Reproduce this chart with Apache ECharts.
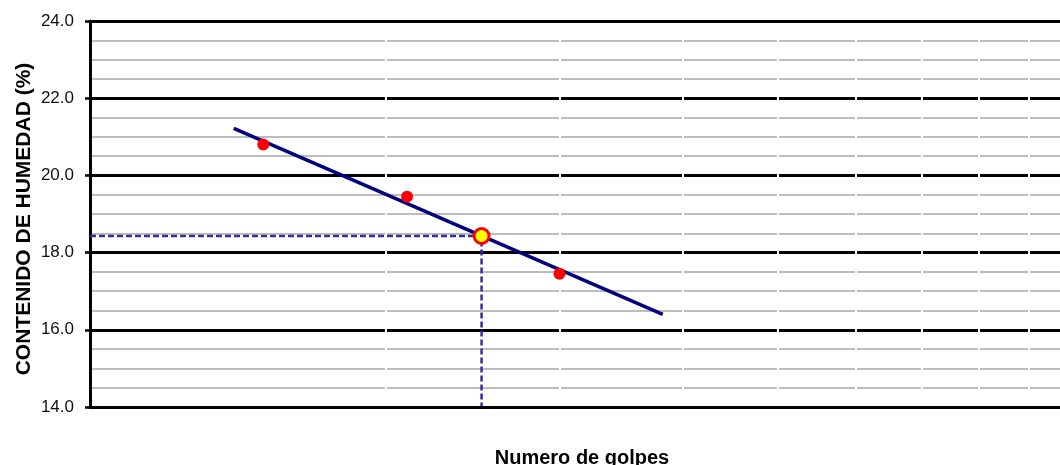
<!DOCTYPE html>
<html>
<head>
<meta charset="utf-8">
<script src="https://cdn.jsdelivr.net/npm/echarts@6/dist/echarts.min.js"></script>
<style>html,body{margin:0;padding:0;background:#fff}#c{width:1060px;height:465px}</style>
</head>
<body>
<div id="c"></div>
<script>
// Data
const blows = [15, 21, 30];
const moisture = [20.8, 19.45, 17.45];
const trendBlows = [14, 38.2];
const trendMoisture = [21.22, 16.4];
const llBlows = 25;
const llMoisture = 18.43;
const xGridValues = [20, 30, 40, 50, 60, 70, 80, 90];
const yTicks = [14, 16, 18, 20, 22, 24];

const chart = echarts.init(document.getElementById('c'));
const font = "'Liberation Sans', Arial, sans-serif";
chart.setOption({
  animation: false,
  grid: { left: 90, width: 984, top: 21, height: 386, containLabel: false, outerBoundsMode: 'none' },
  xAxis: [{
    type: 'log', logBase: 10, min: 10, max: 100, z: 5,
    name: 'Numero de golpes', nameLocation: 'middle', nameGap: 41,
    nameTextStyle: { fontFamily: font, fontWeight: 'bold', fontSize: 20, color: '#000' },
    axisLine: { show: true, lineStyle: { color: '#000', width: 3 } },
    axisTick: { show: false }, axisLabel: { show: false }, splitLine: { show: false }
  }, {
    type: 'log', logBase: 10, min: 10, max: 100, position: 'top', z: 5,
    axisLine: { show: true, lineStyle: { color: '#000', width: 3 } },
    axisTick: { show: false }, axisLabel: { show: false }, splitLine: { show: false }
  }],
  yAxis: {
    type: 'value', min: yTicks[0], max: yTicks[yTicks.length - 1], interval: 2,
    name: 'CONTENIDO DE HUMEDAD (%)', nameLocation: 'middle', nameGap: 55, nameMoveOverlap: false,
    nameTextStyle: { fontFamily: font, fontWeight: 'bold', fontSize: 21, color: '#000', padding: [0, 10, 0, 0] },
    axisLine: { show: true, lineStyle: { color: '#000', width: 3 } },
    axisTick: { show: true, length: 5, lineStyle: { color: '#000', width: 2.5 } },
    axisLabel: { fontFamily: font, fontSize: 17, color: '#111', margin: 16,
      formatter: v => v.toFixed(1) },
    splitLine: { show: true, lineStyle: { color: '#000', width: 3 } },
    minorTick: { show: false, splitNumber: 4 },
    minorSplitLine: { show: true, lineStyle: { color: '#a8a8a8', width: 1.5 } }
  },
  series: [
    {
      type: 'line', data: [], z: 1, silent: true,
      markLine: {
        silent: true, symbol: 'none', label: { show: false }, z: 1,
        lineStyle: { color: '#fff', width: 2, type: 'solid' },
        data: xGridValues.map(v => ({ xAxis: v }))
      }
    },
    {
      type: 'line', z: 3, symbol: 'none',
      data: [[trendBlows[0], trendMoisture[0]], [trendBlows[1], trendMoisture[1]]],
      lineStyle: { color: '#000080', width: 3.5 }
    },
    {
      type: 'line', z: 3, symbol: 'none',
      data: [[10, llMoisture], [llBlows, llMoisture], [llBlows, yTicks[0]]],
      lineStyle: { color: '#3030a0', width: 2.5, type: [6, 3] }
    },
    {
      type: 'scatter', z: 4, symbolSize: 12,
      data: blows.map((b, i) => [b, moisture[i]]),
      itemStyle: { color: '#ff0000', opacity: 1 }
    },
    {
      type: 'scatter', z: 6, symbolSize: 15,
      data: [[llBlows, llMoisture]],
      itemStyle: { color: '#ffff00', borderColor: '#ff0000', borderWidth: 3, opacity: 1 }
    }
  ]
});
</script>
</body>
</html>
